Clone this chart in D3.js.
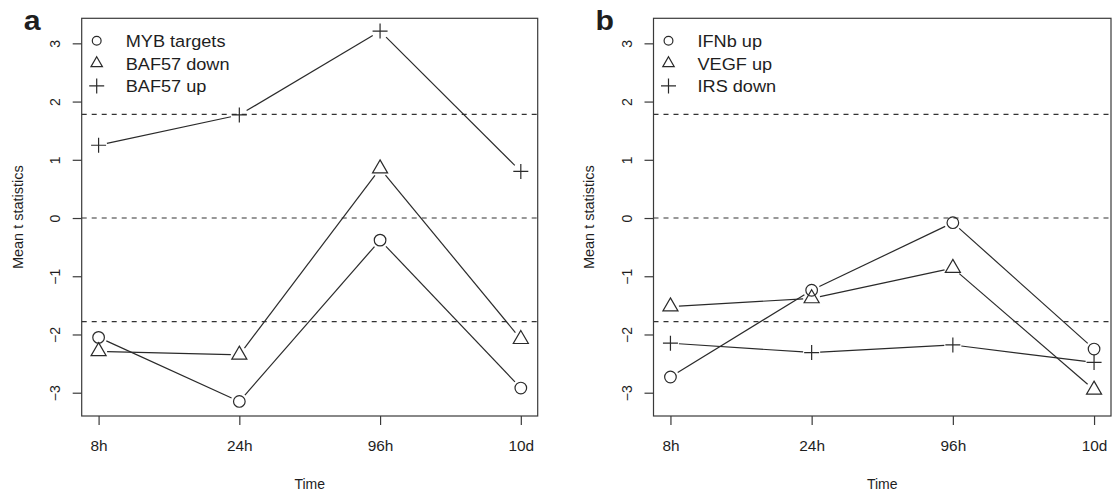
<!DOCTYPE html>
<html><head><meta charset="utf-8">
<script src="https://cdn.jsdelivr.net/npm/d3@7"></script>
<style>
body{margin:0;background:#fff}
text{font-family:"Liberation Sans",Arial,Helvetica,sans-serif;fill:#1e1e1e}
</style>
</head><body>
<svg id="chart" width="1112" height="492"></svg>
<script>
// ---- data ----
const timeLabels = ["8h", "24h", "96h", "10d"];
const timeIndex = [1, 2, 3, 4];
const yTicks = [-3, -2, -1, 0, 1, 2, 3];
const thresholds = [-1.78, 0, 1.78];
const yDomain = [-3.40, 3.43];

const panelALabels = ["MYB targets", "BAF57 down", "BAF57 up"];
const mybTargets = [-2.05, -3.15, -0.38, -2.92];
const baf57Down  = [-2.29, -2.35, 0.85, -2.08];
const baf57Up    = [1.25, 1.77, 3.21, 0.80];

const panelBLabels = ["IFNb up", "VEGF up", "IRS down"];
const ifnbUp  = [-2.73, -1.24, -0.08, -2.25];
const vegfUp  = [-1.52, -1.38, -0.86, -2.95];
const irsDown = [-2.15, -2.31, -2.18, -2.48];

const shapes = ["circle", "triangle", "plus"];

// ---- layout ----
const svg = d3.select("#chart");
const plotTop = 18.3, plotBottom = 416;
const panels = [
  {letter: "a", left: 81.7, right: 537.7, labels: panelALabels, series: [mybTargets, baf57Down, baf57Up]},
  {letter: "b", left: 653.5, right: 1111, labels: panelBLabels, series: [ifnbUp, vegfUp, irsDown]}
];
const ink = "#2a2a2a";

function drawShape(g, shape, cx, cy, big) {
  if (shape === "circle") {
    g.append("circle").attr("cx", cx).attr("cy", cy).attr("r", big ? 5.8 : 4.4)
      .attr("fill", "none").attr("stroke", ink).attr("stroke-width", 1.2);
  } else if (shape === "triangle") {
    const r = big ? 8.7 : 6.6;
    const p = [[cx, cy - r], [cx + r * 0.866, cy + r / 2], [cx - r * 0.866, cy + r / 2]];
    g.append("path").attr("d", "M" + p.map(q => q.join(",")).join("L") + "Z")
      .attr("fill", "none").attr("stroke", ink).attr("stroke-width", 1.2);
  } else {
    const h = 7.5;
    g.append("path").attr("d", `M${cx - h},${cy}H${cx + h}M${cx},${cy - h}V${cy + h}`)
      .attr("fill", "none").attr("stroke", ink).attr("stroke-width", 1.2);
  }
}

panels.forEach(P => {
  const g = svg.append("g");
  const x = d3.scaleLinear().domain([0.88, 4.12]).range([P.left, P.right]);
  const y = d3.scaleLinear().domain(yDomain).range([plotBottom, plotTop]);

  // threshold dashed lines
  g.selectAll("line.thr").data(thresholds).enter().append("line")
    .attr("class", "thr")
    .attr("x1", P.left).attr("x2", P.right)
    .attr("y1", d => y(d)).attr("y2", d => y(d))
    .attr("stroke", "#333").attr("stroke-width", 1.1).attr("stroke-dasharray", "5,5");

  // series lines (type "b": gaps around points) and markers
  const gap = 8.5;
  P.series.forEach((vals, si) => {
    const pts = vals.map((v, i) => [x(timeIndex[i]), y(v)]);
    for (let i = 0; i < pts.length - 1; i++) {
      const [x0, y0] = pts[i], [x1, y1] = pts[i + 1];
      const L = Math.hypot(x1 - x0, y1 - y0);
      const ux = (x1 - x0) / L, uy = (y1 - y0) / L;
      g.append("line")
        .attr("x1", x0 + ux * gap).attr("y1", y0 + uy * gap)
        .attr("x2", x1 - ux * gap).attr("y2", y1 - uy * gap)
        .attr("stroke", ink).attr("stroke-width", 1.2);
    }
    pts.forEach(p => drawShape(g, shapes[si], p[0], p[1], true));
  });

  // box
  g.append("rect").attr("x", P.left).attr("y", plotTop)
    .attr("width", P.right - P.left).attr("height", plotBottom - plotTop)
    .attr("fill", "none").attr("stroke", "#3a3a3a").attr("stroke-width", 1.2);

  // x axis
  const xAxis = d3.axisBottom(x).tickValues(timeIndex)
    .tickFormat((d, i) => timeLabels[i]).tickSize(9).tickPadding(16);
  const gx = g.append("g").attr("transform", `translate(0,${plotBottom})`).call(xAxis);
  gx.select(".domain").remove();
  gx.selectAll("line").attr("stroke", "#3a3a3a").attr("stroke-width", 1.2);
  gx.selectAll("text").attr("font-size", 14)
    .attr("font-family", '"Liberation Sans",Arial,sans-serif')
    .attr("fill", "#1e1e1e").attr("transform", "scale(1.1,1)");

  // y axis
  const yAxis = d3.axisLeft(y).tickValues(yTicks).tickSize(9)
    .tickFormat(d => d < 0 ? "\u2212" + Math.abs(d) : String(d));
  const gy = g.append("g").attr("transform", `translate(${P.left},0)`).call(yAxis);
  gy.select(".domain").remove();
  gy.selectAll("line").attr("stroke", "#3a3a3a").attr("stroke-width", 1.2);
  gy.selectAll("text").attr("font-size", 14)
    .attr("font-family", '"Liberation Sans",Arial,sans-serif')
    .attr("fill", "#1e1e1e")
    .attr("x", 0).attr("y", 0).attr("dy", 0)
    .attr("text-anchor", "middle")
    .attr("transform", "translate(-22,0) rotate(-90)");

  // axis titles
  g.append("text").attr("x", (P.left + P.right) / 2).attr("y", 489)
    .attr("text-anchor", "middle").attr("font-size", 14).text("Time");
  g.append("text")
    .attr("transform", `translate(${P.left - 59.2},${(plotTop + plotBottom) / 2}) rotate(-90)`)
    .attr("text-anchor", "middle").attr("font-size", 14.5).text("Mean t statistics");

  // panel letter
  g.append("text").attr("transform", `translate(${P.left - 58},30) scale(1.08,1)`)
    .attr("font-size", 28).attr("font-weight", "bold").attr("fill", "#000").text(P.letter);

  // legend
  P.labels.forEach((lab, i) => {
    drawShape(g, shapes[i], P.left + 15, 40.7 + 22.6 * i, false);
    g.append("text")
      .attr("transform", `translate(${P.left + 44},${47.3 + 22.4 * i}) scale(1.1,1)`)
      .attr("font-size", 16.5).text(lab);
  });
});
</script>
</body></html>
